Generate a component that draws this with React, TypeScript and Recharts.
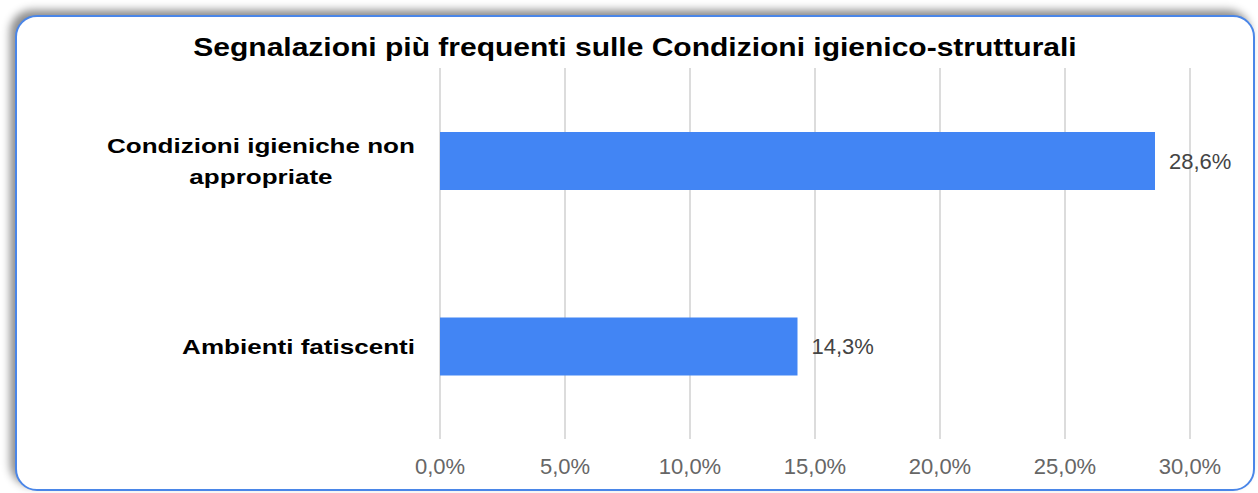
import { BarChart, Bar, XAxis, YAxis, CartesianGrid, LabelList } from 'recharts';

const categories = ['Condizioni igieniche non\nappropriate', 'Ambienti fatiscenti'];
const values = [28.6, 14.3];
const xTicks = [0, 5, 10, 15, 20, 25, 30];

const data = categories.map((name, i) => ({ name, value: values[i] }));

const FONT = "'Liberation Sans', Arial, sans-serif";
const fmt = (v: number) => v.toFixed(1).replace('.', ',') + '%';

// the labels in the picture are drawn a bit wider than plain Arial
const LABEL_SIZE = 21;
const LABEL_STRETCH = 1.24;

let ctx: CanvasRenderingContext2D | null = null;
const measure = (s: string, font: string) => {
  if (!ctx) ctx = document.createElement('canvas').getContext('2d');
  if (!ctx) return s.length * 11;
  ctx.font = font;
  return ctx.measureText(s).width;
};

const CategoryTick = (props: any) => {
  const { x, y, payload } = props;
  const lines: string[] = String(payload.value).split('\n');
  const maxW = Math.max(...lines.map((l) => measure(l, `bold ${LABEL_SIZE}px ${FONT}`)));
  const lh = 31;
  const top = -((lines.length - 1) * lh) / 2;
  return (
    <g transform={`translate(${x},${y}) scale(${LABEL_STRETCH},1)`}>
      <text textAnchor='middle' fontFamily={FONT} fontWeight='bold' fontSize={LABEL_SIZE} fill='#000'>
        {lines.map((l, i) => (
          <tspan key={i} x={-maxW / 2} y={top + i * lh} dy='0.35em'>
            {l}
          </tspan>
        ))}
      </text>
    </g>
  );
};

const App = () => {
  return (
    <div
      style={{
        position: 'absolute',
        left: 0,
        top: 0,
        width: 1258,
        height: 493,
        overflow: 'hidden',
        background: '#fff',
      }}
    >
      <div
        style={{
          position: 'absolute',
          left: 15,
          top: 15,
          width: 1236,
          height: 472,
          border: '2px solid #4a86e8',
          borderRadius: 22,
          boxShadow: '-5px -5px 8px rgba(0,0,0,0.45)',
          background: '#fff',
        }}
      >
        <div
          style={{
            position: 'absolute',
            left: 0,
            top: 16,
            width: 1236,
            textAlign: 'center',
            fontFamily: FONT,
            fontWeight: 'bold',
            fontSize: 25,
            color: '#000',
            transform: 'scaleX(1.2)',
            whiteSpace: 'nowrap',
          }}
        >
          Segnalazioni più frequenti sulle Condizioni igienico-strutturali
        </div>
        <BarChart
          width={1236}
          height={472}
          data={data}
          layout='vertical'
          margin={{ top: 51, right: 63, left: 0, bottom: 10 }}
          barSize={58}
        >
          <CartesianGrid horizontal={false} stroke='#d0d0d0' strokeWidth={1.5} />
          <XAxis
            type='number'
            domain={[0, 30]}
            ticks={xTicks}
            tickFormatter={fmt}
            axisLine={false}
            tickLine={false}
            tickMargin={13}
            height={40}
            tick={{ fill: '#666', fontSize: 22, fontFamily: FONT }}
          />
          <YAxis
            type='category'
            dataKey='name'
            width={423}
            axisLine={false}
            tickLine={false}
            tickMargin={19}
            tick={<CategoryTick />}
          />
          <Bar dataKey='value' fill='#4285f4' isAnimationActive={false}>
            <LabelList
              dataKey='value'
              position='right'
              offset={14}
              formatter={(v: any) => fmt(Number(v))}
              fill='#444'
              fontSize={22}
              fontFamily={FONT}
            />
          </Bar>
        </BarChart>
      </div>
    </div>
  );
};

export default App;
